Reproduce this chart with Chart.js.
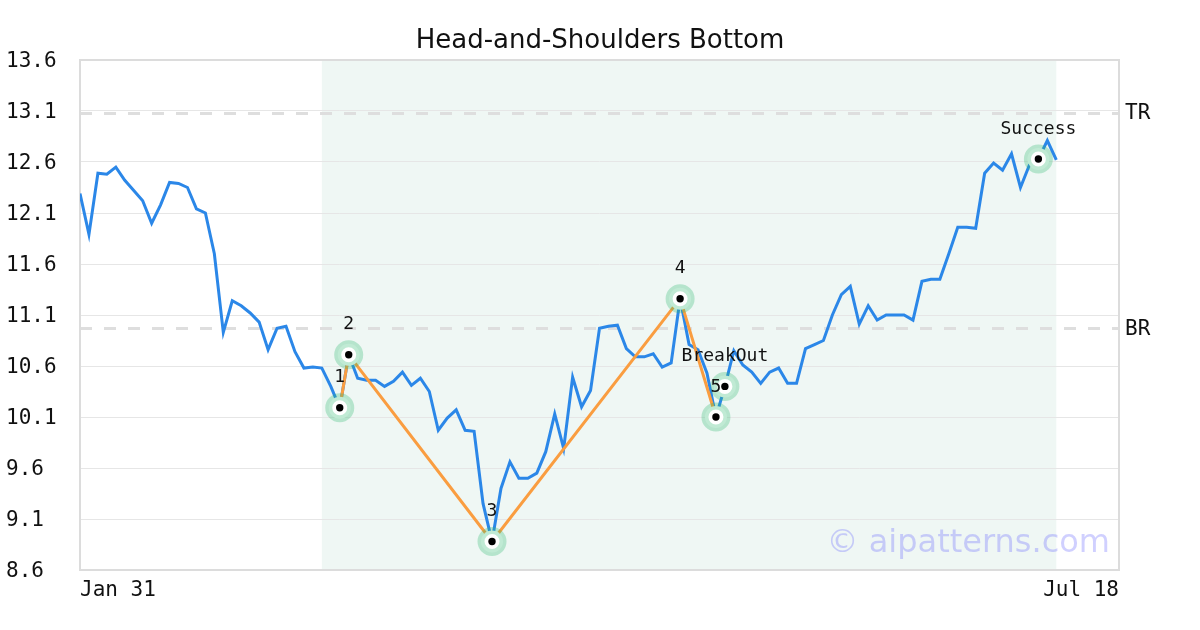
<!DOCTYPE html>
<html>
<head>
<meta charset="utf-8">
<script src="https://cdn.jsdelivr.net/npm/chart.js@4.4.0/dist/chart.umd.min.js"></script>
<style>
  html, body { margin: 0; padding: 0; background: #fff; }
</style>
</head>
<body>
<canvas id="chart" width="1200" height="630"></canvas>
<script>
// daily closes, one per trading day starting Jan 31
const closes = [
  12.29, 11.89, 12.49, 12.48, 12.55, 12.42, 12.32, 12.22, 12.00, 12.18,
  12.40, 12.39, 12.35, 12.14, 12.10, 11.70, 10.93, 11.24, 11.19, 11.12,
  11.03, 10.76, 10.97, 10.99, 10.74, 10.58, 10.59, 10.58, 10.40, 10.19,
  10.71, 10.48, 10.46, 10.46, 10.40, 10.45, 10.54, 10.41, 10.48, 10.35,
  9.97, 10.09, 10.17, 9.97, 9.96, 9.25, 8.88, 9.40, 9.66, 9.50,
  9.50, 9.55, 9.76, 10.13, 9.79, 10.49, 10.20, 10.36, 10.97, 10.99,
  11.00, 10.77, 10.69, 10.69, 10.72, 10.59, 10.63, 11.26, 10.81, 10.76,
  10.53, 10.10, 10.40, 10.75, 10.61, 10.54, 10.43, 10.54, 10.58, 10.43,
  10.43, 10.77, 10.81, 10.85, 11.10, 11.30, 11.38, 11.01, 11.19, 11.05,
  11.10, 11.10, 11.10, 11.05, 11.43, 11.45, 11.45, 11.70, 11.96, 11.96,
  11.95, 12.49, 12.59, 12.52, 12.68, 12.35, 12.57, 12.63, 12.81, 12.62
];
const xTickLabels = ['Jan 31', 'Jul 18'];
const xLastDay = 116;
const yMin = 8.6, yMax = 13.6, yStep = 0.5;

// pattern pivots (day index) and marked points
const pivotDays = [29, 30, 46, 67, 71];
const markDays = [29, 30, 46, 67, 71, 72, 107];
const markText = ['1', '2', '3', '4', '5', 'BreakOut', 'Success'];
const levelNames = ['TR', 'BR'];
const levelValues = [13.08, 10.97];
const patternFrom = 27, patternTo = 109;

const MONO = '"DejaVu Sans Mono", monospace';
const SANS = '"DejaVu Sans", sans-serif';

const pts = days => days.map(d => ({ x: d, y: closes[d] }));

const decor = {
  id: 'decor',
  beforeDraw(chart) {
    const { ctx, chartArea: a, scales: { x } } = chart;
    ctx.save();
    ctx.fillStyle = '#fff';
    ctx.fillRect(0, 0, chart.width, chart.height);
    ctx.fillStyle = '#eff7f4';
    ctx.fillRect(x.getPixelForValue(patternFrom), a.top,
      x.getPixelForValue(patternTo) - x.getPixelForValue(patternFrom), a.bottom - a.top);
    ctx.restore();
  },
  beforeDatasetsDraw(chart) {
    const { ctx, chartArea: a, scales: { y } } = chart;
    ctx.save();
    ctx.strokeStyle = '#dedede';
    ctx.lineWidth = 3;
    ctx.setLineDash([12, 12]);
    levelValues.forEach(v => {
      const py = Math.round(y.getPixelForValue(v)) + 0.5;
      ctx.beginPath();
      ctx.moveTo(a.left, py);
      ctx.lineTo(a.right, py);
      ctx.stroke();
    });
    ctx.setLineDash([]);
    ctx.lineWidth = 2;
    ctx.strokeStyle = '#dcdcdc';
    ctx.strokeRect(a.left, a.top, a.right - a.left, a.bottom - a.top);
    ctx.restore();
  },
  afterDraw(chart) {
    const { ctx, chartArea: a, scales: { x, y } } = chart;
    ctx.save();
    ctx.fillStyle = '#111';
    ctx.font = '26px ' + SANS;
    ctx.textAlign = 'center';
    ctx.textBaseline = 'middle';
    ctx.fillText('Head-and-Shoulders Bottom', 600, 41);

    ctx.font = '18px ' + MONO;
    markDays.forEach((d, i) => {
      ctx.fillText(markText[i], x.getPixelForValue(d), y.getPixelForValue(closes[d]) - 30);
    });

    ctx.font = '21px ' + MONO;
    ctx.textAlign = 'left';
    levelValues.forEach((v, i) => {
      ctx.fillText(levelNames[i], a.right + 6, y.getPixelForValue(v) + 1);
    });

    ctx.font = '32px ' + SANS;
    ctx.fillStyle = 'rgba(110, 110, 255, 0.32)';
    ctx.textAlign = 'right';
    ctx.fillText('\u00a9 aipatterns.com', a.right - 9, a.bottom - 26);
    ctx.restore();
  }
};

new Chart(document.getElementById('chart'), {
  type: 'scatter',
  data: {
    datasets: [
      {
        data: pts(closes.map((v, i) => i)),
        showLine: true,
        borderColor: '#2b87e8',
        borderWidth: 3,
        pointRadius: 0,
        order: 4
      },
      {
        data: pts(pivotDays),
        showLine: true,
        borderColor: '#fa9d40',
        borderWidth: 3,
        pointRadius: 0,
        order: 3
      },
      {
        data: pts(markDays),
        pointRadius: 11,
        borderWidth: 7,
        pointBorderColor: 'rgba(46, 184, 114, 0.3)',
        pointBackgroundColor: '#ffffff',
        order: 2
      },
      {
        data: pts(markDays),
        pointRadius: 3.7,
        borderWidth: 0,
        pointBackgroundColor: '#000000',
        order: 1
      }
    ]
  },
  options: {
    responsive: false,
    animation: false,
    devicePixelRatio: 1,
    events: [],
    layout: { padding: { top: 60, right: 81, left: 6, bottom: 0 } },
    plugins: { legend: { display: false }, title: { display: false }, tooltip: { enabled: false } },
    scales: {
      x: {
        type: 'linear',
        min: 0,
        max: xLastDay,
        grid: { display: false },
        border: { display: false },
        afterFit: s => { s.height = 60; },
        afterBuildTicks: s => { s.ticks = [{ value: 0 }, { value: xLastDay }]; },
        ticks: {
          align: 'inner',
          maxRotation: 0,
          padding: 0,
          color: '#111',
          font: { family: MONO, size: 21 },
          callback: (v) => v === 0 ? xTickLabels[0] : xTickLabels[1]
        }
      },
      y: {
        min: yMin,
        max: yMax,
        grid: { color: '#e6e6e6', lineWidth: 1, drawTicks: false },
        border: { display: false },
        afterFit: s => { s.width = 74; },
        ticks: {
          stepSize: yStep,
          crossAlign: 'far',
          padding: 6,
          labelOffset: 2,
          color: '#111',
          font: { family: MONO, size: 21 },
          callback: v => v.toFixed(1)
        }
      }
    }
  },
  plugins: [decor]
});
</script>
</body>
</html>
